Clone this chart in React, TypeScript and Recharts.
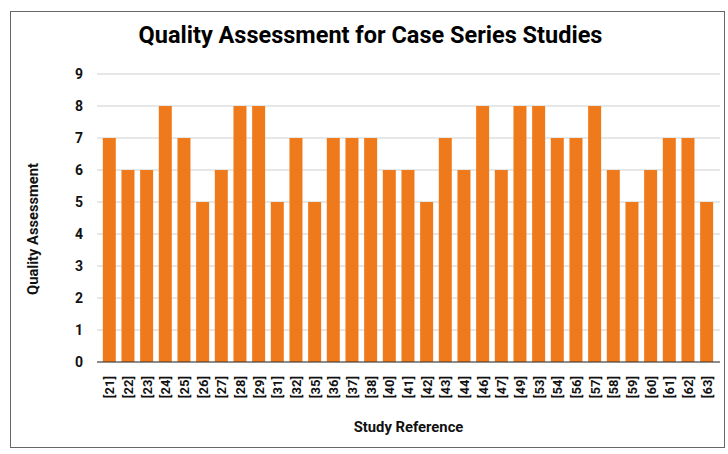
import React from 'react';
import { BarChart, Bar, XAxis, YAxis, CartesianGrid } from 'recharts';

const studyRefs = [
  '[21]', '[22]', '[23]', '[24]', '[25]', '[26]', '[27]', '[28]', '[29]', '[31]', '[32]',
  '[35]', '[36]', '[37]', '[38]', '[40]', '[41]', '[42]', '[43]', '[44]', '[46]', '[47]',
  '[49]', '[53]', '[54]', '[56]', '[57]', '[58]', '[59]', '[60]', '[61]', '[62]', '[63]',
];
const scores = [
  7, 6, 6, 8, 7, 5, 6, 8, 8, 5, 7,
  5, 7, 7, 7, 6, 6, 5, 7, 6, 8, 6,
  8, 8, 7, 7, 8, 6, 5, 6, 7, 7, 5,
];
const yTicks = [0, 1, 2, 3, 4, 5, 6, 7, 8, 9];

const data = studyRefs.map((study, i) => ({ study, score: scores[i] }));

const font = 'Roboto, "Liberation Sans", Arial, sans-serif';

function RotatedTick(props: any) {
  const { x, y, payload } = props;
  return (
    <text
      x={0}
      y={0}
      transform={`translate(${x + 5},${y + 6}) rotate(-90)`}
      textAnchor="end"
      fontFamily={font}
      fontWeight="bold"
      fontSize={13}
      fill="#111"
    >
      {payload.value}
    </text>
  );
}

export default function App() {
  return (
    <div style={{ position: 'absolute', left: 0, top: 0, width: 728, height: 454, background: '#fff' }}>
      <div
        style={{
          position: 'absolute',
          left: 10,
          top: 11,
          width: 713,
          height: 435,
          border: '1.5px solid #666',
        }}
      />
      <div
        style={{
          position: 'absolute',
          left: 0,
          top: 21,
          width: 741,
          textAlign: 'center',
          fontFamily: font,
          fontWeight: 'bold',
          fontSize: 23.5,
          color: '#000',
        }}
      >
        Quality Assessment for Case Series Studies
      </div>
      <div
        style={{
          position: 'absolute',
          left: 97,
          top: 418,
          width: 623,
          textAlign: 'center',
          fontFamily: font,
          fontWeight: 'bold',
          fontSize: 14.8,
          color: '#111',
        }}
      >
        Study Reference
      </div>
      <div
        style={{
          position: 'absolute',
          left: 33 - 100,
          top: 230 - 10,
          width: 200,
          textAlign: 'center',
          transform: 'rotate(-90deg)',
          fontFamily: font,
          fontWeight: 'bold',
          fontSize: 14.7,
          color: '#111',
        }}
      >
        Quality Assessment
      </div>
      <div style={{ position: 'absolute', left: 0, top: 0 }}>
        <BarChart
          width={728}
          height={454}
          data={data}
          margin={{ top: 74, right: 8, bottom: 32, left: 40 }}
          barCategoryGap="15%"
        >
          <CartesianGrid vertical={false} stroke="#cfcfcf" />
          <XAxis
            dataKey="study"
            interval={0}
            height={60}
            padding={{ left: 3, right: 4 }}
            tickLine={false}
            axisLine={{ stroke: '#333', strokeWidth: 1.2 }}
            tick={<RotatedTick />}
          />
          <YAxis
            width={57}
            domain={[0, 9]}
            ticks={yTicks}
            axisLine={false}
            tickLine={false}
            tickMargin={8}
            tick={{ fontFamily: font, fontWeight: 'bold', fontSize: 14, fill: '#111' }}
          />
          <Bar dataKey="score" fill="#EF7A1C" isAnimationActive={false} />
        </BarChart>
      </div>
    </div>
  );
}
